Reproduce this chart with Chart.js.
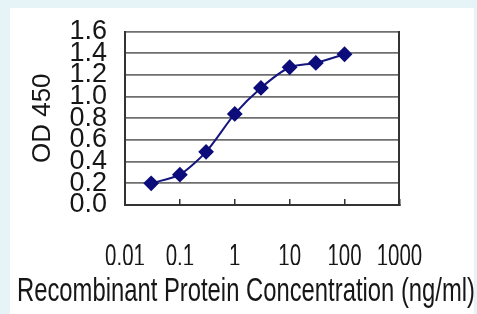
<!DOCTYPE html>
<html>
<head>
<meta charset="utf-8">
<script src="https://cdn.jsdelivr.net/npm/chart.js@4/dist/chart.umd.min.js"></script>
<style>
  html, body { margin: 0; padding: 0; }
  body { width: 477px; height: 314px; background: #e6f4f7; position: relative; overflow: hidden; }
  #panel { position: absolute; left: 10px; top: 8px; width: 464px; height: 306px; background: #ffffff; }
  #c { position: absolute; left: 0; top: 0; }
</style>
</head>
<body>
<div id="panel"></div>
<canvas id="c" width="477" height="314"></canvas>
<script>
// ---- data ----
const concentrations = [0.03, 0.1, 0.3, 1, 3, 10, 30, 100];
const od450 = [0.20, 0.28, 0.49, 0.84, 1.08, 1.27, 1.31, 1.39];
const xTickValues = [0.01, 0.1, 1, 10, 100, 1000];
const xTickLabels = ['0.01', '0.1', '1', '10', '100', '1000'];
const yTickValues = [0, 0.2, 0.4, 0.6, 0.8, 1.0, 1.2, 1.4, 1.6];
const yTickLabels = ['0.0', '0.2', '0.4', '0.6', '0.8', '1.0', '1.2', '1.4', '1.6'];
const xTitle = 'Recombinant Protein Concentration (ng/ml)';
const yTitle = 'OD 450';

const FONT = "'Liberation Sans', Arial, sans-serif";
const TEXT = '#161616';
const GRID = '#6f6f6f';
const BORDER = '#333333';
const X_CONDENSE = 0.64;

// condensed rendering of the x tick labels (native fillText maxWidth)
const condensePlugin = {
  id: 'condense',
  beforeDraw(chart) {
    const ctx = chart.ctx;
    if (ctx.__condensed) return;
    ctx.__condensed = true;
    const orig = ctx.fillText;
    ctx.fillText = function (t, x, y, mw) {
      if (mw === undefined && xTickLabels.includes(String(t))) {
        return orig.call(this, t, x, y, this.measureText(String(t)).width * X_CONDENSE);
      }
      return mw === undefined ? orig.call(this, t, x, y) : orig.call(this, t, x, y, mw);
    };
  }
};

new Chart(document.getElementById('c'), {
  type: 'line',
  data: {
    datasets: [{
      data: concentrations.map((c, i) => ({ x: c, y: od450[i] })),
      borderColor: '#15157f',
      borderWidth: 2,
      backgroundColor: '#0c0c7a',
      pointBackgroundColor: '#0c0c7a',
      pointBorderColor: '#0c0c7a',
      pointStyle: 'rectRot',
      pointRadius: 6.5,
      tension: 0.25,
      fill: false
    }]
  },
  options: {
    responsive: false,
    animation: false,
    devicePixelRatio: 1,
    layout: { padding: { left: 17, right: 2, top: 29, bottom: 6 } },
    plugins: {
      legend: { display: false },
      tooltip: { enabled: false },
      title: {
        display: true,
        position: 'bottom',
        text: xTitle,
        color: TEXT,
        font: { family: FONT, size: 33, weight: 'normal', lineHeight: 1 },
        padding: { top: 10, bottom: 0 }
      }
    },
    scales: {
      x: {
        type: 'logarithmic',
        position: 'bottom',
        min: 0.01,
        max: 1000,
        afterBuildTicks: (s) => { s.ticks = xTickValues.map(v => ({ value: v })); },
        afterFit: (s) => { s.height = 60; },
        ticks: {
          autoSkip: false,
          maxRotation: 0,
          minRotation: 0,
          padding: 42,
          color: TEXT,
          font: { family: FONT, size: 32, lineHeight: 1 },
          callback: (v) => { const i = xTickValues.indexOf(v); return i >= 0 ? xTickLabels[i] : ''; }
        },
        grid: {
          drawOnChartArea: false,
          drawTicks: true,
          tickLength: -6,
          tickColor: BORDER,
          lineWidth: 1.5
        },
        border: { display: true, color: BORDER, width: 2 }
      },
      y: {
        type: 'linear',
        position: 'left',
        min: 0,
        max: 1.6,
        afterBuildTicks: (s) => { s.ticks = yTickValues.map(v => ({ value: v })); },
        afterFit: (s) => { s.width = 108; },
        ticks: {
          autoSkip: false,
          padding: 18,
          color: TEXT,
          font: { family: FONT, size: 27, lineHeight: 1 },
          callback: (v) => { const i = yTickValues.findIndex(t => Math.abs(t - v) < 1e-9); return i >= 0 ? yTickLabels[i] : ''; }
        },
        grid: { drawTicks: false, color: GRID, lineWidth: 1.8 },
        border: { display: true, color: BORDER, width: 2 },
        title: {
          display: true,
          text: yTitle,
          color: TEXT,
          font: { family: FONT, size: 26, lineHeight: 1.2 },
          padding: { top: 10, bottom: 0 }
        }
      },
      y2: {
        type: 'linear',
        position: 'right',
        min: 0,
        max: 1.6,
        afterFit: (s) => { s.width = 75; },
        ticks: { display: false },
        grid: { display: false, drawTicks: false },
        border: { display: true, color: BORDER, width: 2 }
      }
    }
  },
  plugins: [condensePlugin]
});
</script>
</body>
</html>
